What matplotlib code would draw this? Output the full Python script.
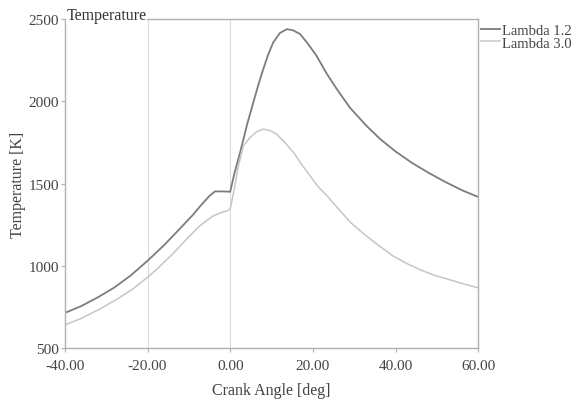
import matplotlib.pyplot as plt

plt.rcParams['font.family'] = ['Liberation Serif', 'DejaVu Serif']
plt.rcParams['axes.unicode_minus'] = False

# crank angle [deg] / temperature [K]
angle_12 = [-40, -36, -32, -28, -24, -20, -16, -12, -9, -7, -5, -3.7, -2, 0,
            1, 2.4, 3.2, 4.2, 5.6, 6.8, 8, 9.2, 10.4, 12, 13.7, 15.2, 16.9, 18.8,
            20.9, 23.3, 25.8, 29, 33, 36.3, 40, 44, 48, 52, 56, 60]
temp_12 = [713, 755, 808, 868, 942, 1030, 1125, 1230, 1310, 1370, 1425, 1452, 1452, 1450,
           1560, 1690, 1770, 1870, 1994, 2100, 2196, 2285, 2358, 2415, 2439, 2432, 2409, 2350,
           2276, 2170, 2074, 1960, 1850, 1770, 1695, 1625, 1565, 1510, 1460, 1418]

angle_30 = [-40, -36, -31.5, -27.5, -23.5, -20, -17.7, -14, -10.5, -7.5, -4.2, -2, -0.8, 0,
            1, 2, 3.2, 4.8, 6.4, 8, 9.6, 11.2, 13.2, 15.3, 17.3, 19.3, 21.3, 23.4,
            26.2, 29, 32, 35, 39.4, 43, 46, 49, 52.5, 56, 60]
temp_30 = [640, 680, 737, 795, 859, 930, 980, 1070, 1163, 1240, 1302, 1325, 1333, 1345,
           1470, 1610, 1730, 1780, 1815, 1831, 1822, 1801, 1750, 1689, 1615, 1547, 1480, 1426,
           1345, 1266, 1200, 1140, 1059, 1010, 975, 945, 919, 893, 865]

x_ticks = [-40, -20, 0, 20, 40, 60]
y_ticks = [500, 1000, 1500, 2000, 2500]

fig = plt.figure(figsize=(5.79, 4.02), dpi=100)
ax = fig.add_axes([0.112, 0.132, 0.714, 0.818])

for xv in [-20, 0]:
    ax.axvline(xv, color='#dcdcdc', lw=0.8, zorder=0)

ax.plot(angle_12, temp_12, color='#7c7c7c', lw=1.3, label='Lambda 1.2')
ax.plot(angle_30, temp_30, color='#c6c6c6', lw=1.1, label='Lambda 3.0')

ax.set_xlim(-40, 60)
ax.set_ylim(500, 2500)
ax.set_xticks(x_ticks)
ax.set_xticklabels([f'{v:.2f}' for v in x_ticks])
ax.set_yticks(y_ticks)

for sp in ax.spines.values():
    sp.set_color('#b0b0b0')
    sp.set_linewidth(1.0)
ax.tick_params(colors='#b0b0b0', labelcolor='#444444', labelsize=11, length=3, width=0.8, pad=1)
ax.tick_params(axis='x', pad=5)

ax.set_xlabel('Crank Angle [deg]', fontsize=11.5, color='#444444', labelpad=7)
ax.set_ylabel('Temperature [K]', fontsize=11.5, color='#444444', labelpad=2)

# title sits on the top spine, masking it
ax.text(0.004, 1.012, 'Temperature', transform=ax.transAxes, fontsize=11.5, color='#333333',
        ha='left', va='center', zorder=5, clip_on=False,
        bbox=dict(facecolor='white', edgecolor='none', pad=0.5))

ax.legend(loc='upper left', bbox_to_anchor=(1.003, 0.99), frameon=False,
          fontsize=10.5, handlelength=1.3, handletextpad=0.15, labelspacing=-0.05,
          borderaxespad=0.0, borderpad=0.1, labelcolor='#444444')

fig.savefig('out.png', dpi=100)
